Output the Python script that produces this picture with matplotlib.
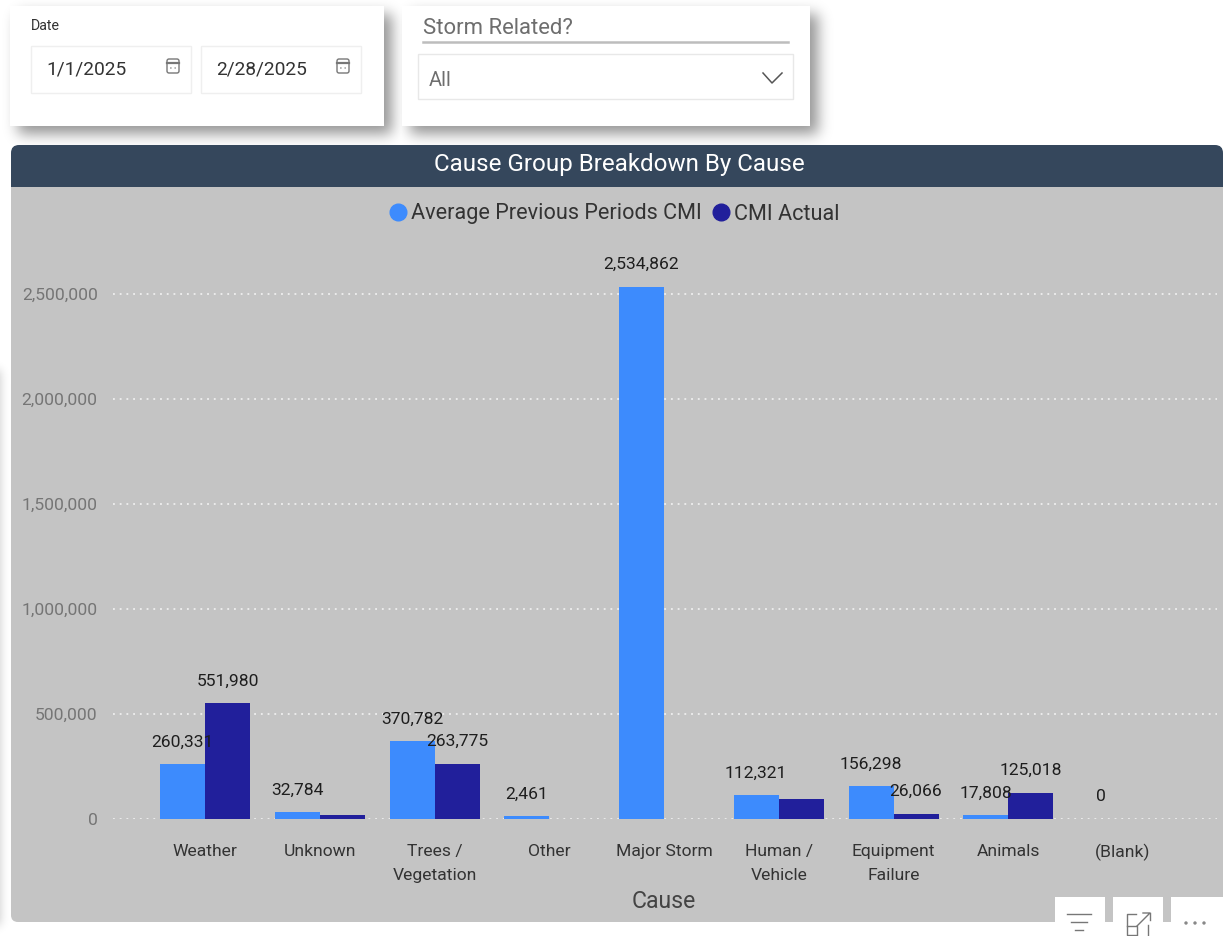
import matplotlib
matplotlib.use("Agg")
import matplotlib.pyplot as plt
from matplotlib.lines import Line2D
from matplotlib.patches import FancyBboxPatch, Rectangle, Circle
from matplotlib.ticker import FuncFormatter
from math import erf
import numpy as np

plt.rcParams['font.family'] = ['Roboto', 'DejaVu Sans']

categories = ["Weather", "Unknown", "Trees /\nVegetation", "Other", "Major Storm",
              "Human /\nVehicle", "Equipment\nFailure", "Animals", "(Blank)"]
avg_prev = [260331, 32784, 370782, 12000, 2534862, 112321, 156298, 17808, 0]
cmi_actual = [551980, 20000, 263775, 0, 0, 95000, 26066, 125018, 0]
avg_labels = ["260,331", "32,784", "370,782", "2,461", "2,534,862", "112,321", "156,298", "17,808", "0"]
act_labels = ["551,980", "", "263,775", "", "", "", "26,066", "125,018", ""]
y_ticks = [0, 500000, 1000000, 1500000, 2000000, 2500000]

W, H = 1225, 936
AVG_C, ACT_C = "#3D8BFD", "#211F9B"
fig = plt.figure(figsize=(W / 100, H / 100), dpi=100, facecolor="white")

bg = fig.add_axes([0, 0, 1, 1], zorder=0)
bg.set_xlim(0, W); bg.set_ylim(H, 0); bg.axis("off")

# soft drop shadows, evaluated on the pixel grid
verf = np.vectorize(erf)
px, py = np.arange(W) + 0.5, np.arange(H) + 0.5
def soft(x0, y0, x1, y1, sigma, strength):
    sx = 0.5 * (verf((px - x0) / (sigma * 2**0.5)) - verf((px - x1) / (sigma * 2**0.5)))
    sy = 0.5 * (verf((py - y0) / (sigma * 2**0.5)) - verf((py - y1) / (sigma * 2**0.5)))
    return strength * np.outer(sy, sx)
alpha = np.zeros((H, W))
alpha = np.maximum(alpha, soft(18, 14, 392, 134, 7, 0.42))
alpha = np.maximum(alpha, soft(410, 14, 818, 134, 7, 0.42))
alpha = np.maximum(alpha, soft(-40, 370, 0, 925, 5, 0.22))
rgba = np.zeros((H, W, 4)); rgba[..., 3] = alpha
bg.imshow(rgba, extent=(0, W, H, 0), aspect="auto", zorder=1, interpolation="nearest")
bg.set_xlim(0, W); bg.set_ylim(H, 0)

for x0, x1 in [(10, 384), (402, 810)]:
    bg.add_patch(Rectangle((x0, 6), x1 - x0, 120, fc="white", ec="none", zorder=2))

bg.add_patch(FancyBboxPatch((11, 151), 1212, 771, boxstyle="round,pad=0,rounding_size=7",
                            fc="#C4C4C4", ec="none", zorder=3))
bg.add_patch(FancyBboxPatch((11, 145), 1212, 42, boxstyle="round,pad=0,rounding_size=8",
                            fc="#35475C", ec="none", zorder=4))
bg.add_patch(Rectangle((11, 170), 1212, 17, fc="#35475C", ec="none", zorder=4))
bg.text(619.5, 165, "Cause Group Breakdown By Cause", color="white", fontsize=17.4,
        ha="center", va="center", zorder=5)

bg.text(31, 26, "Date", color="#333333", fontsize=10.2, ha="left", va="center", zorder=5)
for x0, x1, label, tx, ix in [(31, 191, "1/1/2025", 46, 173), (201, 361, "2/28/2025", 216, 343)]:
    bg.add_patch(Rectangle((x0, 46), x1 - x0, 47, fc="white", ec="#EFEFEF", lw=1, zorder=5))
    bg.text(tx, 70, label, color="#333333", fontsize=13.8, ha="left", va="center", zorder=6)
    bg.add_patch(FancyBboxPatch((ix - 6, 59), 12, 14, boxstyle="round,pad=0,rounding_size=2",
                                fc="white", ec="#777777", lw=1.0, zorder=6))
    bg.plot([ix - 6, ix + 6], [63, 63], color="#777777", lw=1.6, zorder=7)
    bg.plot([ix - 3, ix + 3], [68, 68], color="#AAAAAA", lw=1.2, ls=":", zorder=7)
bg.text(423, 28, "Storm Related?", color="#6E6E6E", fontsize=15.9, ha="left", va="center", zorder=5)
bg.plot([423, 788], [42, 42], color="#BDBDBD", lw=1.8, zorder=5)
bg.add_patch(Rectangle((418, 54), 375, 45, fc="white", ec="#E8E8E8", lw=1, zorder=5))
bg.text(429, 80, "All", color="#6E6E6E", fontsize=14.5, ha="left", va="center", zorder=6)
bg.plot([763, 772, 782], [73, 83, 73], color="#555555", lw=1.1, zorder=6)

L, R, B, T = 113, 1217, 819, 240
ax = fig.add_axes([L / W, 1 - B / H, (R - L) / W, (B - T) / H], zorder=2)
ax.patch.set_alpha(0)
x = np.arange(len(categories))
bw = 45 / 114.75
ax.bar(x - bw / 2, avg_prev, bw, color=AVG_C, zorder=3)
ax.bar(x + bw / 2, cmi_actual, bw, color=ACT_C, zorder=3)
ax.set_xlim((L - 205) / 114.75, (R - 205) / 114.75)
ax.set_ylim(0, (B - T) * 500000 / 105)
ax.set_yticks(y_ticks)
ax.yaxis.set_major_formatter(FuncFormatter(lambda v, _: f"{int(v):,}"))
ax.set_xticks(x)
ax.set_xticklabels(categories, linespacing=1.72)
ax.tick_params(axis="y", length=0, pad=11, labelsize=12.6, labelcolor="#757575")
ax.tick_params(axis="x", length=0, pad=18, labelsize=12.6, labelcolor="#333333")
ax.grid(axis="y", color="white", ls=(0, (1.2, 3.2)), lw=1.1, alpha=0.85, zorder=1)
ax.grid(axis="x", visible=False)
ax.set_axisbelow(True)
for s in ax.spines.values():
    s.set_visible(False)
for i in x:
    for v, lab, off in [(avg_prev[i], avg_labels[i], -bw / 2), (cmi_actual[i], act_labels[i], bw / 2)]:
        if lab:
            ax.annotate(lab, (i + off, v), xytext=(0, 16), textcoords="offset points",
                        ha="center", va="center", fontsize=12.6, color="#1E1E1E", zorder=6,
                        annotation_clip=False)
fig.text(664 / W, 1 - 902 / H, "Cause", color="#444444", fontsize=16.6, ha="center", va="center", zorder=5)
handles = [Line2D([], [], marker="o", ls="none", ms=12, color=AVG_C),
           Line2D([], [], marker="o", ls="none", ms=12, color=ACT_C)]
fig.legend(handles, ["Average Previous Periods CMI", "CMI Actual"], loc="center",
           bbox_to_anchor=(608 / W, 1 - 214 / H), ncol=2, frameon=False, fontsize=15.6,
           labelcolor="#333333", handletextpad=-0.4, columnspacing=-0.1, borderpad=0)

top = fig.add_axes([0, 0, 1, 1], zorder=5)
top.set_xlim(0, W); top.set_ylim(H, 0); top.axis("off"); top.patch.set_alpha(0)
top.add_patch(Rectangle((1223, 880), 2, 56, fc="white", ec="none"))
for x0 in (1055, 1113, 1171):
    top.add_patch(Rectangle((x0, 897), 50 if x0 < 1171 else 52, 39, fc="white", ec="none"))
c = "#777777"
for hw, y in [(12, 914), (8, 922), (4, 930)]:
    top.plot([1079 - hw, 1079 + hw], [y, y], color=c, lw=1.0)
top.plot([1136, 1127, 1127, 1136], [914, 914, 935, 935], color=c, lw=1.0)
top.plot([1127, 1137, 1137], [926, 926, 935], color=c, lw=1.0)
top.plot([1148, 1148], [925, 935], color=c, lw=1.0)
top.plot([1137, 1150, 1143], [926, 913, 913], color=c, lw=1.0)
top.plot([1150, 1150], [913, 920], color=c, lw=1.0)
for cx in (1186, 1195, 1204):
    top.add_patch(Circle((cx, 923), 1.7, fc="#888888", ec="none"))

fig.savefig("out.png", dpi=100, facecolor="white")
